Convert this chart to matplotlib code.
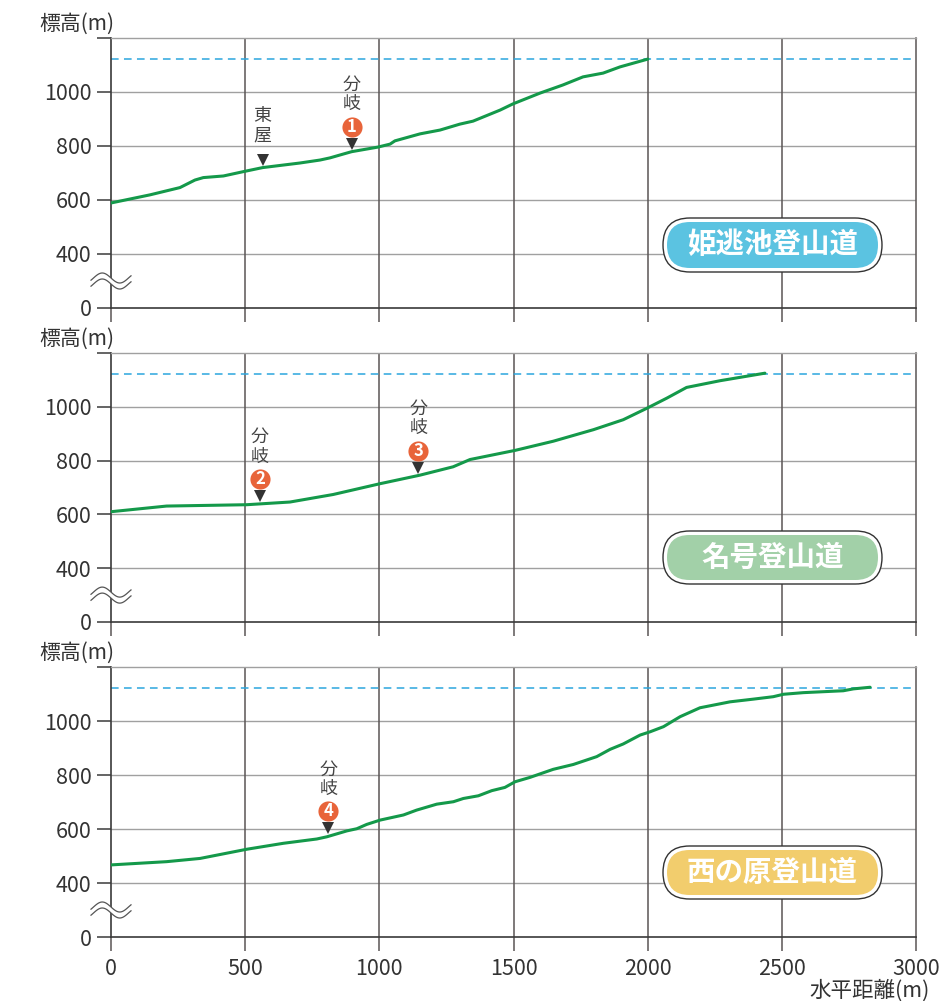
import numpy as np
import matplotlib
matplotlib.use("Agg")
import matplotlib.pyplot as plt
import matplotlib.transforms as mtransforms
from matplotlib.patches import FancyBboxPatch

plt.rcParams['font.family'] = ['Noto Sans CJK JP', 'DejaVu Sans']

# ---------------- data ----------------
route_names = ["姫逃池登山道", "名号登山道", "西の原登山道"]
route_colors = ["#5BC3E1", "#A2D0A8", "#F2CD6D"]

dist1 = [0, 145, 257, 313, 344, 419, 493, 565, 704, 779, 816, 865, 897, 995, 1040, 1058,
         1152, 1226, 1300, 1349, 1450, 1498, 1599, 1684, 1759, 1834, 1897, 2001]
elev1 = [589, 619, 646, 674, 683, 689, 705, 720, 737, 748, 756, 770, 779, 796, 807, 819,
         845, 859, 881, 892, 933, 956, 996, 1026, 1056, 1070, 1093, 1122]

dist2 = [0, 207, 506, 667, 828, 1002, 1152, 1275, 1338, 1506, 1648, 1798, 1909, 2002,
         2071, 2145, 2270, 2437]
elev2 = [610, 631, 636, 646, 674, 714, 746, 777, 804, 838, 872, 915, 952, 997,
         1032, 1072, 1097, 1125]

dist3 = [0, 207, 332, 506, 642, 767, 804, 879, 916, 953, 1003, 1090, 1139, 1214, 1276,
         1313, 1369, 1419, 1468, 1506, 1561, 1648, 1723, 1810, 1860, 1909, 1972, 2009,
         2059, 2121, 2195, 2307, 2394, 2468, 2506, 2580, 2729, 2767, 2829]
elev3 = [467, 479, 491, 525, 547, 563, 571, 593, 601, 617, 633, 652, 670, 692, 701,
         713, 723, 742, 754, 775, 791, 821, 839, 868, 895, 915, 948, 960,
         979, 1016, 1049, 1071, 1081, 1090, 1099, 1105, 1112, 1119, 1125]

summit_elev = 1123

# markers: (route index, distance, label text, branch number or None)
marker_route = [0, 0, 1, 1, 2]
marker_dist = [565, 897, 555, 1145, 810]
marker_label = ["東\n屋", "分\n岐", "分\n岐", "分\n岐", "分\n岐"]
marker_num = [None, "1", "2", "3", "4"]

ytick_vals = [0, 400, 600, 800, 1000, 1200]
ytick_labels = ["0", "400", "600", "800", "1000", ""]
xtick_vals = [0, 500, 1000, 1500, 2000, 2500, 3000]
xtick_labels = ["0", "500", "1000", "1500", "2000", "2500", "3000"]

dists = [dist1, dist2, dist3]
elevs = [elev1, elev2, elev3]

# ---------------- scale (broken axis 0-400 compressed) ----------------
def fwd(v):
    v = np.asarray(v, dtype=float)
    return np.where(v < 400, v / 2.0, v - 200.0)

def inv(u):
    u = np.asarray(u, dtype=float)
    return np.where(u < 200, u * 2.0, u + 200.0)

W, H = 947, 1001
fig = plt.figure(figsize=(W / 100, H / 100), dpi=100)
fig.patch.set_facecolor("white")

panel_px = [(38, 308), (353, 622), (667, 937)]
left_px, right_px = 111, 916

GREEN = "#14994A"
DARK = "#3A3A3A"
VGRID = "#5A5555"
HGRID = "#A0A0A0"
TXT = "#333333"

def px_offset(ax, dy_px):
    return ax.transData + mtransforms.ScaledTranslation(0, dy_px / 100, fig.dpi_scale_trans)

axes = []
for i, (top, bot) in enumerate(panel_px):
    ax = fig.add_axes([left_px / W, (H - bot) / H, (right_px - left_px) / W, (bot - top) / H])
    axes.append(ax)
    ax.set_yscale("function", functions=(fwd, inv))
    ax.set_xlim(0, 3000)
    ax.set_ylim(0, 1200)

    # grid
    for yv in ytick_vals[1:-1]:
        ax.axhline(yv, color=HGRID, lw=1.0, zorder=1)
    for xv in xtick_vals[1:-1]:
        ax.axvline(xv, color=VGRID, lw=1.1, zorder=1)

    for s in ["left", "bottom"]:
        ax.spines[s].set_color(DARK)
        ax.spines[s].set_linewidth(1.2)
    ax.spines["right"].set_color(VGRID)
    ax.spines["right"].set_linewidth(1.1)
    ax.spines["top"].set_color(HGRID)
    ax.spines["top"].set_linewidth(1.0)

    ax.set_yticks(ytick_vals)
    ax.set_yticklabels(ytick_labels)
    ax.set_xticks(xtick_vals)
    ax.minorticks_off()
    ax.tick_params(axis="y", direction="out", length=10, width=1.1, color=DARK,
                   labelsize=15.5, labelcolor=TXT, pad=4)
    ax.tick_params(axis="x", direction="out", length=10, width=1.1, color=VGRID,
                   labelsize=15.5, labelcolor=TXT, pad=5)
    if i < 2:
        ax.set_xticklabels([])
    else:
        ax.set_xticklabels(xtick_labels)

    # summit dashed line
    ax.axhline(summit_elev, color="#2BA6DE", lw=1.1, ls=(0, (5, 3.5)), zorder=2)

    # profile line
    ax.plot(dists[i], elevs[i], color=GREEN, lw=2.2, solid_capstyle="round", zorder=4)

    # y-axis label
    ax.annotate("標高(m)", xy=(0, 1), xycoords="axes fraction",
                xytext=(-72, 14), textcoords="offset pixels",
                ha="left", va="center", fontsize=15, color=TXT)

    # break mark
    trans = fig.dpi_scale_trans + mtransforms.ScaledTranslation(0, 200, ax.transData)
    xs = np.linspace(-20, 20, 80)
    base = 5.0 * np.sin(2 * np.pi * xs / 35 + np.pi)
    up = base + 3.0
    lo = base - 3.0
    ax.fill_between(xs / 100, lo / 100, up / 100, color="white", transform=trans,
                    clip_on=False, zorder=6, lw=0)
    ax.plot(xs / 100, up / 100, color="#555555", lw=0.9, transform=trans, clip_on=False, zorder=7)
    ax.plot(xs / 100, lo / 100, color="#555555", lw=0.9, transform=trans, clip_on=False, zorder=7)

# markers
for r, d, lab, num in zip(marker_route, marker_dist, marker_label, marker_num):
    ax = axes[r]
    yline = float(np.interp(d, dists[r], elevs[r]))
    ax.plot([d], [yline], marker="v", ms=8, color="#333333", mew=0,
            transform=px_offset(ax, 8), zorder=8, clip_on=False)
    if num is None:
        ax.annotate(lab, xy=(d, yline), xycoords="data", xytext=(0, 42),
                    textcoords="offset pixels", ha="center", va="center",
                    fontsize=13, color="#444444", linespacing=1.1, zorder=8)
    else:
        ax.plot([d], [yline], marker="o", ms=14.5, color="#E8643A", mew=0,
                transform=px_offset(ax, 25), zorder=8, clip_on=False)
        ax.annotate(num, xy=(d, yline), xycoords="data", xytext=(0, 25),
                    textcoords="offset pixels", ha="center", va="center",
                    fontsize=12, color="white", fontweight="bold", zorder=9)
        ax.annotate(lab, xy=(d, yline), xycoords="data", xytext=(0, 57),
                    textcoords="offset pixels", ha="center", va="center",
                    fontsize=13, color="#444444", linespacing=1.1, zorder=8)

# route name badges
badge_px = [(663, 218, 882, 272), (663, 531, 882, 584), (663, 846, 882, 899)]
for (x0, y0, x1, y1), name, col in zip(badge_px, route_names, route_colors):
    w = (x1 - x0) / 100
    h = (y1 - y0) / 100
    bx = x0 / 100
    by = (H - y1) / 100
    outer = FancyBboxPatch((bx, by), w, h,
                           boxstyle=f"round,pad=0,rounding_size={h/2}",
                           transform=fig.dpi_scale_trans, fc="white", ec="#333333",
                           lw=1.0, zorder=20)
    fig.add_artist(outer)
    ins = 0.04
    inner = FancyBboxPatch((bx + ins, by + ins), w - 2 * ins, h - 2 * ins,
                           boxstyle=f"round,pad=0,rounding_size={(h - 2*ins)/2}",
                           transform=fig.dpi_scale_trans, fc=col, ec="none", zorder=21)
    fig.add_artist(inner)
    fig.text((x0 + x1) / 2 / W, 1 - (y0 + y1) / 2 / H, name, ha="center", va="center",
             fontsize=20.5, fontweight="bold", color="white", zorder=22)

fig.text(930 / W, 1 - 991 / H, "水平距離(m)", ha="right", va="center", fontsize=15.5, color=TXT)

fig.savefig("out.png", dpi=100, facecolor="white")
